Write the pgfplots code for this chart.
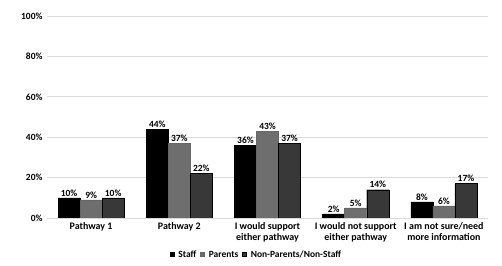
\documentclass[border=0pt]{standalone}
\usepackage{pgfplots}
\pgfplotsset{compat=1.18}
\usepackage{fontspec}
\setmainfont{Carlito}
\definecolor{cStaff}{HTML}{000000}
\definecolor{cPar}{HTML}{6E6E6E}
\definecolor{cNon}{HTML}{383838}
\begin{document}
\begin{tikzpicture}
\path[use as bounding box] (0,0) rectangle (502bp,266bp);
\begin{axis}[
  at={(47bp,48bp)}, anchor=south west,
  scale only axis, width=441bp, height=202bp,
  ymin=0, ymax=100, xmin=-0.5, xmax=4.5,
  ybar=0pt, bar width=0.25,
  axis line style={draw=none},
  major tick length=0pt,
  ymajorgrids, grid style={draw=black!15, line width=0.8pt},
  ytick={0,20,...,100},
  yticklabel={\pgfmathprintnumber{\tick}\%},
  /pgf/number format/assume math mode=true,
  y tick label style={font=\bfseries\fontsize{9.5}{10}\selectfont, xshift=-1bp},
  xtick={0,...,4},
  xticklabels={Pathway 1, Pathway 2, {I would support\\either pathway}, {I would not support\\either pathway}, {I am not sure/need\\more information}},
  x tick label style={font=\bfseries\fontsize{10}{11.5}\selectfont, align=center, yshift=-1bp},
  nodes near coords={\pgfmathprintnumber{\pgfplotspointmeta}\%},
  every node near coord/.append style={font=\bfseries\fontsize{9.5}{10}\selectfont, inner sep=1.5bp},
  legend style={at={(0.474,-0.183)}, anchor=center, legend columns=-1, draw=none, fill=none,
    font=\bfseries\fontsize{9.5}{10}\selectfont, column sep=3bp, inner sep=0pt,
    nodes={inner sep=1bp}},
  legend image code/.code={\fill[#1] (0bp,-1.5bp) rectangle (4bp,2.5bp);},
]
\addplot[fill=cStaff, draw=black] coordinates {(0,10) (1,44) (2,36) (3,2) (4,8)};
\addplot[fill=cPar, draw=black!60] coordinates {(0,9) (1,37) (2,43) (3,5) (4,6)};
\addplot[fill=cNon, draw=black] coordinates {(0,10) (1,22) (2,37) (3,14) (4,17)};
\legend{Staff, Parents, Non-Parents/Non-Staff}
\end{axis}
\end{tikzpicture}
\end{document}
